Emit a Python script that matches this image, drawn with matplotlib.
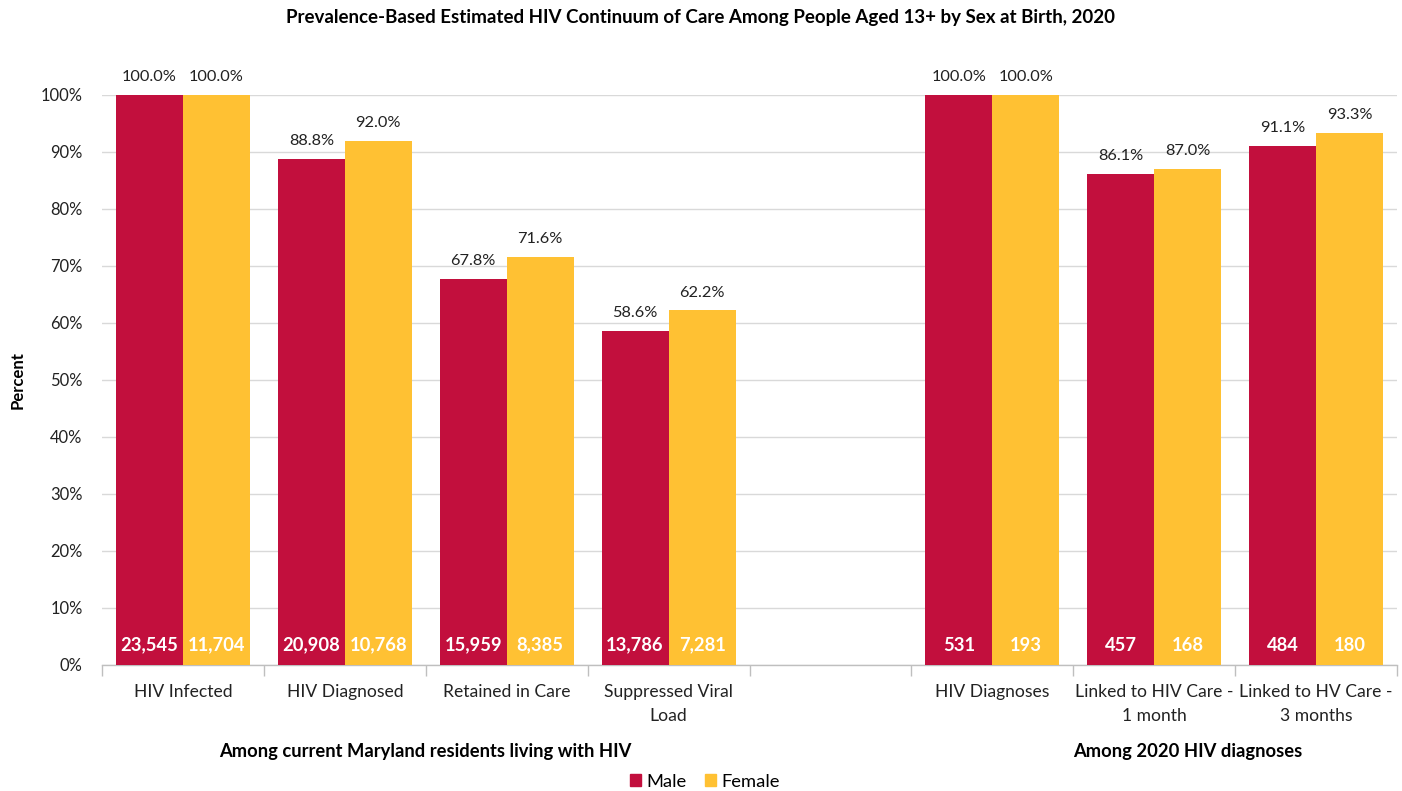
import numpy as np
import matplotlib
matplotlib.use("Agg")
import matplotlib.pyplot as plt
from matplotlib.patches import Patch

plt.rcParams['font.family'] = ['Lato', 'DejaVu Sans']

categories = ["HIV Infected", "HIV Diagnosed", "Retained in Care", "Suppressed Viral\nLoad",
              "", "HIV Diagnoses", "Linked to HIV Care -\n1 month", "Linked to HV Care -\n3 months"]
male_pct = [100.0, 88.8, 67.8, 58.6, np.nan, 100.0, 86.1, 91.1]
female_pct = [100.0, 92.0, 71.6, 62.2, np.nan, 100.0, 87.0, 93.3]
male_n = ["23,545", "20,908", "15,959", "13,786", "", "531", "457", "484"]
female_n = ["11,704", "10,768", "8,385", "7,281", "", "193", "168", "180"]
groups = ["Among current Maryland residents living with HIV", "Among 2020 HIV diagnoses"]
yticks = [0, 10, 20, 30, 40, 50, 60, 70, 80, 90, 100]

male_color = "#C20F3D"
female_color = "#FFC133"

fig = plt.figure(figsize=(14.02, 7.91), dpi=100)
ax = fig.add_axes([0.0728, 0.1593, 0.9236, 0.7206])

n = len(categories)
x = np.arange(n) + 0.5
w = 0.414
for i in range(n):
    if np.isnan(male_pct[i]):
        continue
    ax.bar(x[i] - w / 2, male_pct[i], w, color=male_color, zorder=3)
    ax.bar(x[i] + w / 2, female_pct[i], w, color=female_color, zorder=3)
    ax.text(x[i] - w / 2, male_pct[i] + 1.9, f"{male_pct[i]:.1f}%", ha='center', va='bottom',
            fontsize=11.8, color='#222222', clip_on=False)
    ax.text(x[i] + w / 2, female_pct[i] + 1.9, f"{female_pct[i]:.1f}%", ha='center', va='bottom',
            fontsize=11.8, color='#222222', clip_on=False)
    ax.text(x[i] - w / 2, 3.5, male_n[i], ha='center', va='center', fontsize=13.2,
            color='white', fontweight='bold', zorder=4)
    ax.text(x[i] + w / 2, 3.5, female_n[i], ha='center', va='center', fontsize=13.2,
            color='white', fontweight='bold', zorder=4)

ax.set_xlim(0, n)
ax.set_ylim(0, 100)
ax.set_yticks(yticks)
ax.set_yticklabels([f"{t}%" for t in yticks], fontsize=11.9, color='#222222')
ax.tick_params(axis='y', length=0, pad=14)
ax.grid(axis='y', color='#D9D9D9', linewidth=1, zorder=0)
ax.set_axisbelow(True)

ax.set_xticks(np.arange(n + 1))
ax.set_xticklabels([])
ax.tick_params(axis='x', length=8, color='#BFBFBF', width=1)
ax.set_xticks(x, minor=True)
ax.set_xticklabels(categories, minor=True, fontsize=12.6, color='#222222', linespacing=1.55)
ax.tick_params(axis='x', which='minor', length=0, pad=14)

for s in ['top', 'right', 'left']:
    ax.spines[s].set_visible(False)
ax.spines['bottom'].set_color('#BFBFBF')
ax.spines['bottom'].set_linewidth(1)

ax.text(-84 / 161.9, 50, "Percent", rotation=90, ha='center', va='center', fontsize=12,
        fontweight='bold', clip_on=False)

ax.text(2.0, -15.2, groups[0], ha='center', va='center', fontsize=13.2, fontweight='bold',
        clip_on=False)
ax.text(6.71, -15.2, groups[1], ha='center', va='center', fontsize=13.2, fontweight='bold',
        clip_on=False)

fig.text(0.5, 0.978, "Prevalence-Based Estimated HIV Continuum of Care Among People Aged 13+ by Sex at Birth, 2020",
         ha='center', va='center', fontsize=13.5, fontweight='bold')

handles = [Patch(color=male_color, label="Male"), Patch(color=female_color, label="Female")]
fig.legend(handles=handles, loc='center', bbox_to_anchor=(0.503, 0.012), ncol=2, frameon=False,
           fontsize=13.2, handlelength=0.6, handleheight=0.6, handletextpad=0.3, columnspacing=1.0)

fig.savefig("out.png", dpi=100)
